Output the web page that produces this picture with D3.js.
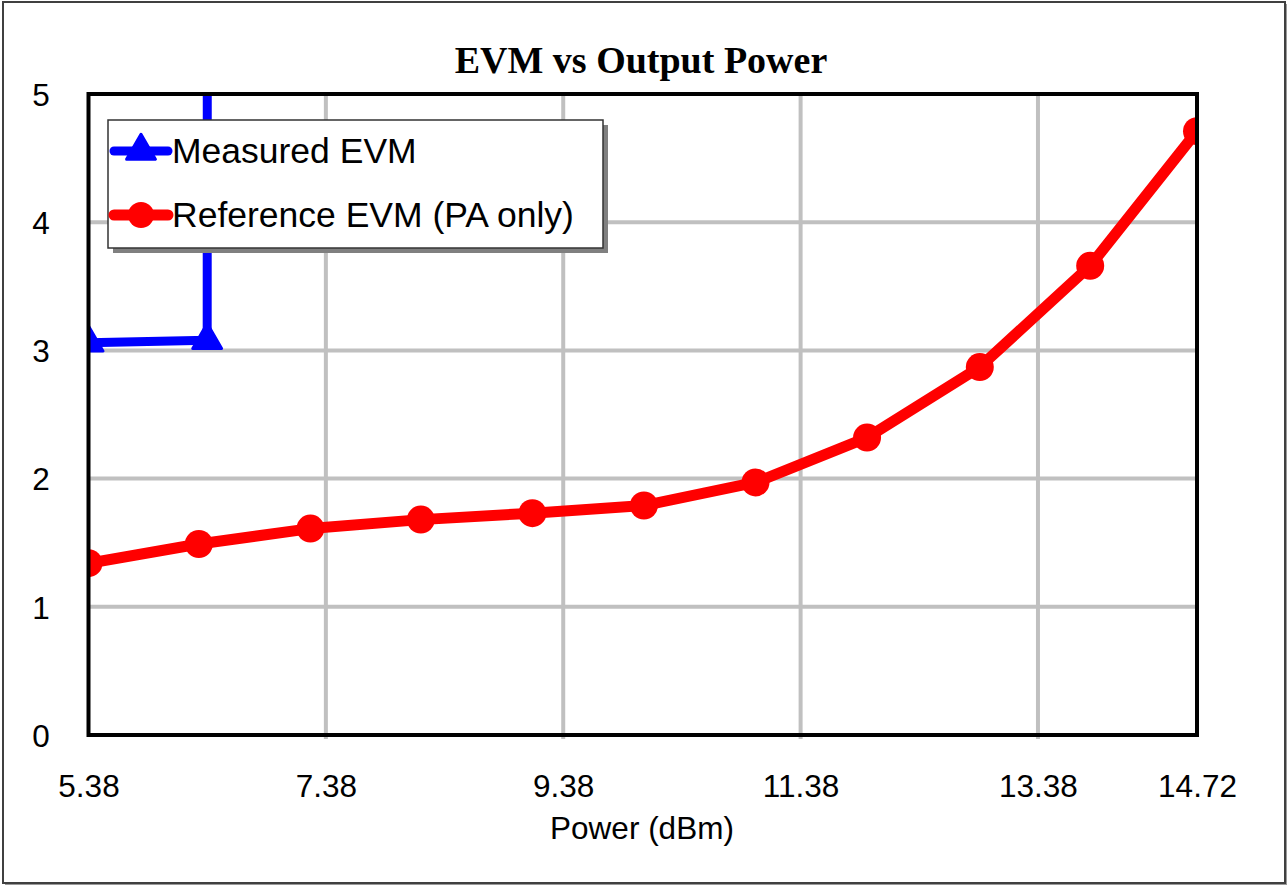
<!DOCTYPE html>
<html>
<head>
<meta charset="utf-8">
<script src="https://cdn.jsdelivr.net/npm/d3@7/dist/d3.min.js"></script>
<style>
  html, body { margin: 0; padding: 0; background: #ffffff; }
  svg { display: block; }
</style>
</head>
<body>
<svg id="chart" width="1288" height="886"></svg>
<script>
// ---- data ----
const chartTitle = "EVM vs Output Power";
const xAxisTitle = "Power (dBm)";
const xTicks = [5.38, 7.38, 9.38, 11.38, 13.38, 14.72];
const yTicks = [0, 1, 2, 3, 4, 5];
const refPower = [5.38, 6.31, 7.25, 8.18, 9.12, 10.06, 11.00, 11.94, 12.89, 13.82, 14.72];
const refEVM   = [1.34, 1.49, 1.61, 1.68, 1.73, 1.79, 1.97, 2.32, 2.87, 3.66, 4.71];
const measPower = [5.38, 6.38, 6.40];
const measEVM   = [3.06, 3.08, 60];
const seriesNames = ["Measured EVM", "Reference EVM (PA only)"];

// ---- layout ----
const svg = d3.select("#chart");
const plot = { left: 88.5, right: 1197, top: 94, bottom: 735 };
const sansFont = "Arial, 'Liberation Sans', sans-serif";

const x = d3.scaleLinear().domain([5.38, 14.72]).range([plot.left, plot.right]);
const y = d3.scaleLinear().domain([0, 5]).range([plot.bottom, plot.top]);

// outer border with shadow
svg.append("rect").attr("x", 5).attr("y", 4).attr("width", 1282).attr("height", 881).attr("fill", "#9a9a9a");
svg.append("rect").attr("x", 3).attr("y", 2).attr("width", 1282).attr("height", 881)
  .attr("fill", "#ffffff").attr("stroke", "#404040").attr("stroke-width", 2);

// title
svg.append("text").attr("x", 641).attr("y", 73).attr("text-anchor", "middle")
  .attr("font-family", "'Times New Roman', 'Liberation Serif', serif")
  .attr("font-weight", "bold").attr("font-size", 38).attr("fill", "#000")
  .text(chartTitle);

// gridlines
const grid = svg.append("g");
grid.selectAll("line.vx").data(xTicks.filter(d => d !== 5.38 && d !== 14.72)).join("line")
  .attr("x1", d => x(d)).attr("x2", d => x(d))
  .attr("y1", plot.top).attr("y2", plot.bottom + 4)
  .attr("stroke", "#c0c0c0").attr("stroke-width", 4);
grid.selectAll("line.hy").data(yTicks.filter(d => d !== 0 && d !== 5)).join("line")
  .attr("x1", plot.left).attr("x2", plot.right)
  .attr("y1", d => y(d)).attr("y2", d => y(d))
  .attr("stroke", "#c0c0c0").attr("stroke-width", 4);

// clip
svg.append("clipPath").attr("id", "plotclip").append("rect")
  .attr("x", plot.left).attr("y", plot.top)
  .attr("width", plot.right - plot.left).attr("height", plot.bottom - plot.top);

const series = svg.append("g").attr("clip-path", "url(#plotclip)");
const line = d3.line().x(d => x(d[0])).y(d => y(d[1]));

// reference series (red)
const refData = refPower.map((p, i) => [p, refEVM[i]]);
series.append("path").datum(refData).attr("d", line)
  .attr("fill", "none").attr("stroke", "#ff0000").attr("stroke-width", 11)
  .attr("stroke-linejoin", "round");
series.selectAll("circle.ref").data(refData).join("circle")
  .attr("cx", d => x(d[0])).attr("cy", d => y(d[1])).attr("r", 14).attr("fill", "#ff0000");

// measured series (blue)
const measData = measPower.map((p, i) => [p, measEVM[i]]);
series.append("path").datum(measData).attr("d", line)
  .attr("fill", "none").attr("stroke", "#0000ff").attr("stroke-width", 9)
  .attr("stroke-linejoin", "round");
const tri = d3.symbol().type(d3.symbolTriangle).size(360);
series.selectAll("path.meas").data(measData.slice(0, 2)).join("path")
  .attr("d", tri).attr("transform", d => `translate(${x(d[0])},${y(d[1])})`)
  .attr("fill", "#0000ff").attr("stroke", "#0000ff").attr("stroke-width", 3).attr("stroke-linejoin", "round");

// plot frame
svg.append("rect").attr("x", plot.left).attr("y", plot.top)
  .attr("width", plot.right - plot.left).attr("height", plot.bottom - plot.top)
  .attr("fill", "none").attr("stroke", "#000").attr("stroke-width", 4);

// axes labels
const xAxis = d3.axisBottom(x).tickValues(xTicks).tickSize(0).tickPadding(0)
  .tickFormat(d3.format(".2f"));
const gx = svg.append("g").attr("transform", `translate(0,${plot.bottom})`).call(xAxis);
gx.select(".domain").remove();
gx.selectAll("text").attr("font-family", sansFont).attr("font-size", 31.5)
  .attr("fill", "#000").attr("dy", null).attr("y", 62);

const yAxis = d3.axisLeft(y).tickValues(yTicks).tickSize(0).tickPadding(0).tickFormat(d3.format("d"));
const gy = svg.append("g").attr("transform", `translate(41,0)`).call(yAxis);
gy.select(".domain").remove();
gy.selectAll("text").attr("font-family", sansFont).attr("font-size", 31.5)
  .attr("fill", "#000").attr("text-anchor", "middle").attr("x", 0).attr("dy", "0.36em");

svg.append("text").attr("x", 642).attr("y", 839).attr("text-anchor", "middle")
  .attr("font-family", sansFont).attr("font-size", 31.5).attr("fill", "#000")
  .text(xAxisTitle);

// legend
const lg = svg.append("g");
lg.append("rect").attr("x", 113).attr("y", 125).attr("width", 495).attr("height", 128).attr("fill", "#808080");
lg.append("rect").attr("x", 108).attr("y", 120).attr("width", 495).attr("height", 128)
  .attr("fill", "#ffffff").attr("stroke", "#333").attr("stroke-width", 1.5);
const legendItems = [
  { name: seriesNames[0], color: "#0000ff", shape: "tri", cy: 151 },
  { name: seriesNames[1], color: "#ff0000", shape: "circle", cy: 215 }
];
legendItems.forEach(it => {
  lg.append("line").attr("x1", 114).attr("x2", 168).attr("y1", it.cy).attr("y2", it.cy)
    .attr("stroke", it.color).attr("stroke-width", it.shape === "tri" ? 9 : 11)
    .attr("stroke-linecap", "round");
  if (it.shape === "tri") {
    lg.append("path").attr("d", tri).attr("transform", `translate(141,${it.cy})`)
      .attr("fill", it.color).attr("stroke", it.color).attr("stroke-width", 3).attr("stroke-linejoin", "round");
  } else {
    lg.append("circle").attr("cx", 141).attr("cy", it.cy).attr("r", 13).attr("fill", it.color);
  }
  lg.append("text").attr("x", 172).attr("y", it.cy + 12)
    .attr("font-family", sansFont).attr("font-size", 35.5).attr("fill", "#000")
    .text(it.name);
});
</script>
</body>
</html>
